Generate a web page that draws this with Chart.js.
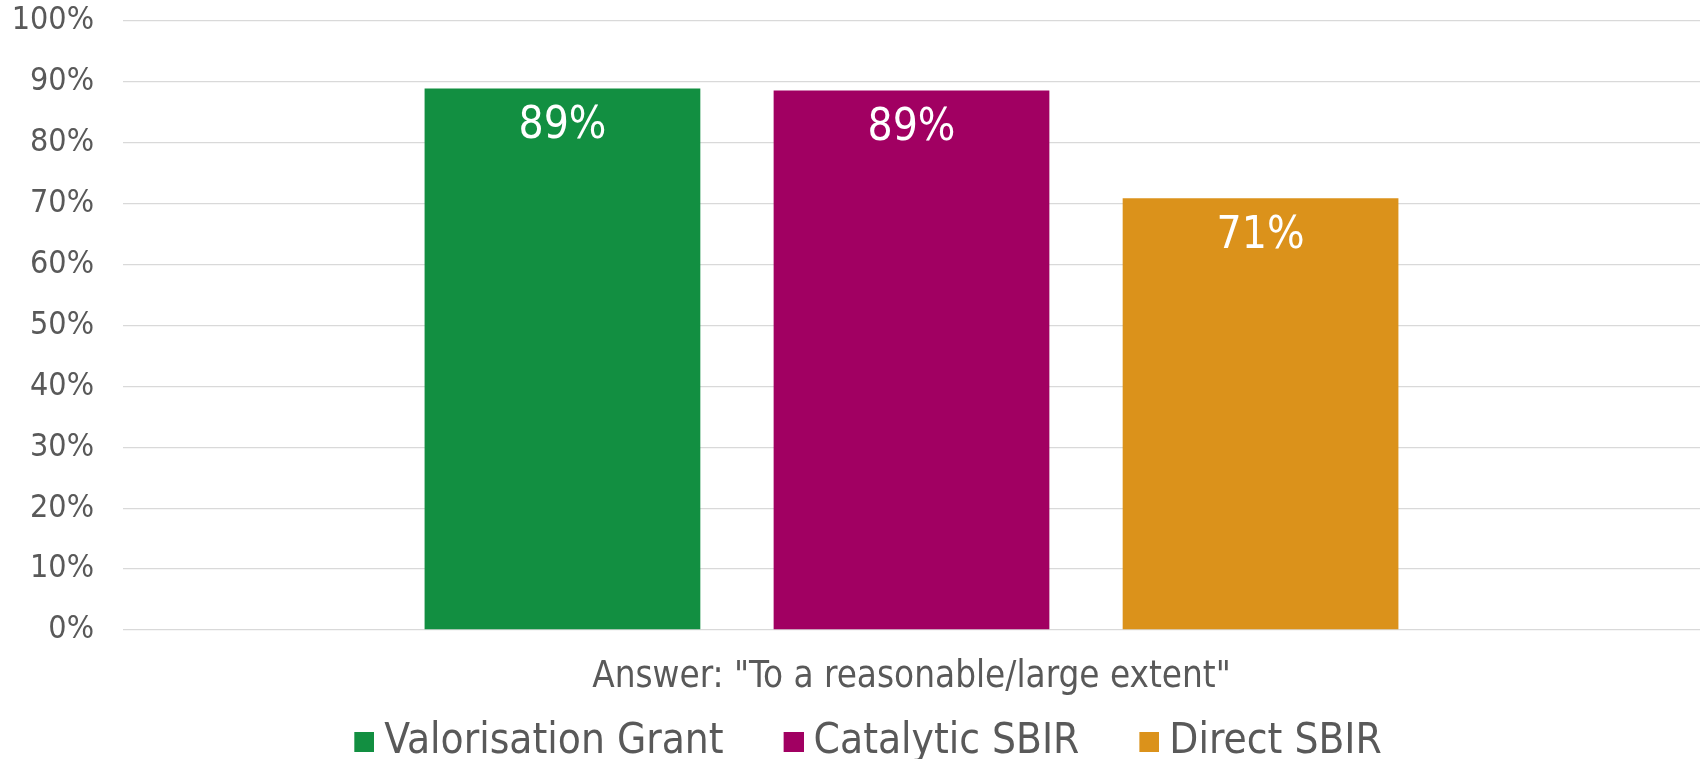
<!DOCTYPE html>
<html>
<head>
<meta charset="utf-8">
<script src="https://cdn.jsdelivr.net/npm/chart.js@4"></script>
<style>
  html, body { margin: 0; padding: 0; background: #fff; }
  #wrap { width: 1703px; height: 759px; }
</style>
</head>
<body>
<div id="wrap"><canvas id="answerChart"></canvas></div>
<script>
const categories = ['Answer: "To a reasonable/large extent"'];
const seriesNames = ['Valorisation Grant', 'Catalytic SBIR', 'Direct SBIR'];
const valorisationGrant = [88.9];
const catalyticSbir = [88.6];
const directSbir = [70.9];
const yTicks = [0, 10, 20, 30, 40, 50, 60, 70, 80, 90, 100];

const FONT = "'DejaVu Sans Condensed', 'DejaVu Sans', sans-serif";
const grey = '#595959';

const colors = [
    'rgb(18, 143, 65)',   // green
    'rgb(161, 0, 98)',    // magenta
    'rgb(219, 146, 27)'   // orange
];

// legend swatch: square sits at the right end of a wider transparent image,
// so it ends up close to its text (chart.js puts fontSize/2 between box and text)
const SWATCH_SLOT = 45;
function makeSwatch(color) {
    const c = document.createElement('canvas');
    c.width = SWATCH_SLOT + 22;
    c.height = 20;
    const g = c.getContext('2d');
    g.fillStyle = color;
    g.fillRect(c.width - 20, 0, 20, 20);
    return c;
}
const swatches = colors.map(makeSwatch);

// white value labels inside the top of each bar
const barLabels = {
    id: 'barLabels',
    afterDatasetsDraw(chart) {
        const ctx = chart.ctx;
        ctx.save();
        ctx.fillStyle = '#ffffff';
        ctx.font = '44px ' + FONT;
        ctx.textAlign = 'center';
        ctx.textBaseline = 'middle';
        chart.data.datasets.forEach((ds, i) => {
            chart.getDatasetMeta(i).data.forEach((bar, j) => {
                ctx.fillText(Math.round(ds.data[j]) + '%', bar.x, bar.y + 38);
            });
        });
        ctx.restore();
    }
};

const ctx = document.getElementById('answerChart').getContext('2d');

new Chart(ctx, {
    type: 'bar',
    data: {
        labels: categories,
        datasets: [valorisationGrant, catalyticSbir, directSbir].map((vals, i) => ({
            label: seriesNames[i],
            data: vals,
            backgroundColor: colors[i],
            borderWidth: 0,
            categoryPercentage: 0.664,
            barPercentage: 0.79
        }))
    },
    options: {
        responsive: true,
        maintainAspectRatio: false,
        animation: false,
        layout: { padding: { top: 21, right: 3, bottom: -14, left: 0 } },
        plugins: {
            tooltip: { enabled: false },
            legend: {
                position: 'bottom',
                labels: {
                    usePointStyle: true,
                    pointStyleWidth: SWATCH_SLOT,
                    boxHeight: 20,
                    padding: 24,
                    color: grey,
                    font: { family: FONT, size: 42 },
                    generateLabels(chart) {
                        const items = Chart.defaults.plugins.legend.labels.generateLabels(chart);
                        items.forEach((item, i) => { item.pointStyle = swatches[i]; });
                        return items;
                    }
                }
            }
        },
        scales: {
            x: {
                grid: { display: false, drawTicks: false, tickLength: 0 },
                border: { display: false },
                ticks: { display: false },
                // category name shown as the axis caption under the bars
                title: {
                    display: true,
                    text: categories[0],
                    color: grey,
                    font: { family: FONT, size: 36.5 },
                    padding: { top: 0, bottom: -2 }
                },
                afterFit(scale) { scale.height = 67; }
            },
            y: {
                min: 0,
                max: 100,
                afterBuildTicks(scale) {
                    scale.ticks = yTicks.map(v => ({ value: v }));
                },
                grid: {
                    color: '#d9d9d9',
                    lineWidth: 1.3,
                    drawTicks: true,
                    tickLength: 29,
                    tickColor: 'rgba(0,0,0,0)'
                },
                border: { display: false },
                ticks: {
                    color: grey,
                    padding: 0,
                    font: { family: FONT, size: 32 },
                    callback: v => v + '%'
                },
                afterFit(scale) { scale.width = 123; }
            }
        }
    },
    plugins: [barLabels]
});
</script>
</body>
</html>
